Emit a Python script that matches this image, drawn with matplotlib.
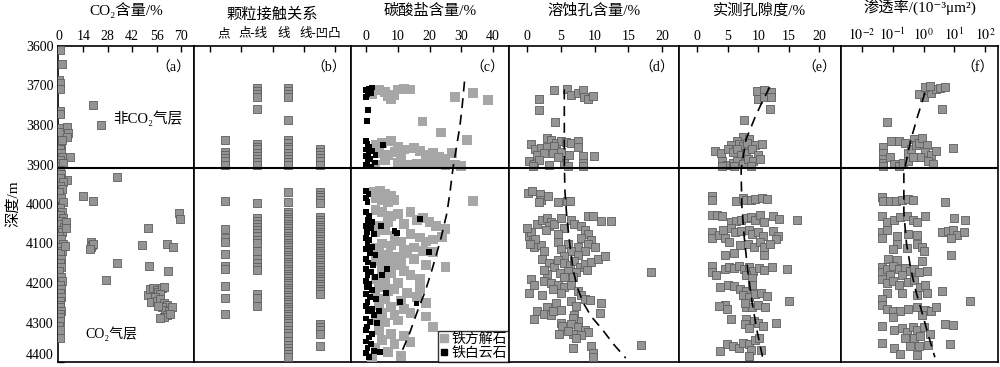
import matplotlib
matplotlib.use('Agg')
import matplotlib.pyplot as plt
from matplotlib.lines import Line2D
import numpy as np

plt.rcParams['font.family'] = ['Liberation Serif', 'Noto Sans CJK SC', 'DejaVu Sans']
plt.rcParams['mathtext.fontset'] = 'stix'
plt.rcParams['axes.unicode_minus'] = False

# ---- (a) CO2 content ----
co2_val = [0.3, 1.5, 0.2, 0.5, 0.8, 0.3, 0.5, 0.2, 0.8, 0.3, 0.6, 1.0, 0.4, 0.9, 1.5, 0.5, 1.2, 0.3,
           4.6, 5.2, 4.6, 1.7, 6.3, 2.0, 19.3, 23.9, 33.1, 4.4, 14.0, 19.7,
           0.5, 1.2, 0.3, 2.0, 0.8, 1.5, 0.2, 1.0, 2.5, 0.4, 1.8, 0.6, 2.2, 1.1, 0.3, 2.8, 0.9, 1.6,
           0.2, 1.3, 2.4, 0.7, 1.9, 0.4, 1.1, 0.5, 1.4, 0.2, 0.9, 1.7, 0.3, 1.2, 0.6, 1.0, 0.4, 0.8,
           0.3, 1.1, 0.5, 0.7, 0.4, 0.2, 0.5, 0.3,
           68.8, 69.5, 51.2, 47.4, 61.8, 65.7, 51.8, 62.4, 33.4, 27.0,
           18.3, 19.0, 18.5, 19.5, 18.0, 3.4, 4.0, 4.0,
           51, 52, 54, 56, 57, 59, 60, 58, 55, 53, 56, 58, 60, 62, 59, 61, 63, 65, 62, 60, 58, 64, 57]
co2_dep = [3610, 3645, 3686, 3693, 3709, 3764, 3772, 3807, 3817, 3837, 3845, 3852, 3862, 3870, 3880, 3888, 3896, 3905,
           3804, 3820, 3830, 3838, 3880, 3897, 3750, 3801, 3932, 3938, 3980, 3993,
           3915, 3925, 3935, 3945, 3955, 3962, 3970, 3985, 3995, 4010, 4020, 4028, 4035, 4042, 4050, 4058, 4065, 4072,
           4080, 4088, 4100, 4110, 4118, 4125, 4140, 4150, 4160, 4170, 4185, 4195, 4205, 4215, 4225, 4235, 4245, 4255,
           4262, 4270, 4278, 4285, 4295, 4310, 4320, 4340,
           4022, 4039, 4060, 4105, 4100, 4110, 4157, 4170, 4150, 4193,
           4097, 4103, 4110, 4100, 4113, 4107, 4045, 4062,
           4230, 4215, 4212, 4218, 4222, 4212, 4210, 4228, 4235, 4248, 4245, 4240, 4250, 4255, 4262, 4268, 4270, 4262,
           4280, 4285, 4288, 4278, 4258]

# ---- (b) grain contact ----
contact_labels = ['点', '点-线', '线', '线-凹凸']
dep_point = [3837, 3868, 3876, 3884, 3892, 3900, 3993, 4064, 4085, 4097, 4127, 4158, 4165, 4208, 4237, 4279]
dep_point_line = [3707, 3715, 3722, 3730, 3759, 3847, 3855, 3862, 3870, 3878, 3886, 3893, 3901, 3997,
                  4035, 4043, 4050, 4058, 4066, 4074, 4082, 4090, 4098, 4120, 4140, 4150, 4160, 4168,
                  4229, 4237, 4259]
dep_line = [3707, 3715, 3722, 3730, 3787, 3838, 3846, 3855, 3862, 3870, 3878, 3886, 3893, 3901, 3970, 3996,
            4020, 4026, 4032, 4038, 4044, 4050, 4056, 4062, 4068, 4074, 4080, 4086, 4092, 4098, 4104, 4110,
            4116, 4122, 4128, 4134, 4140, 4146, 4152, 4158, 4164, 4170, 4176, 4182, 4188, 4194, 4200, 4206,
            4212, 4218, 4224, 4230, 4236, 4242, 4248, 4254, 4260, 4266, 4272, 4278, 4284, 4290, 4296, 4302,
            4310, 4318, 4326, 4334, 4348, 4356, 4364, 4372, 4380, 4388]
dep_line_concave = [3860, 3868, 3876, 3884, 3892, 3900, 3970, 3976, 3982, 3990, 3998,
                    4034, 4040, 4046, 4052, 4058, 4064, 4070, 4076, 4082, 4088, 4094, 4100, 4106, 4112,
                    4118, 4124, 4130, 4136, 4142, 4148, 4154, 4160, 4166, 4172, 4178, 4184, 4190, 4196,
                    4202, 4208, 4214, 4220, 4228, 4305, 4312, 4320, 4330, 4360]

# ---- (c) carbonate content ----
calcite_val = [2, 4, 6, 7, 9, 10, 12, 14, 8, 28, 33.7, 38.4, 17.8, 23.6, 31.8,
               3, 5, 8, 10, 12, 4, 7, 9, 15, 17, 19, 21, 23, 25, 27, 6, 10, 13, 16, 19, 22, 25, 28, 30, 3, 11,
               2.5, 4.5, 6, 8, 9, 5, 3, 7, 33.7,
               3, 5, 8, 10, 14, 16, 18, 20, 22, 12, 7, 4, 3, 6, 9, 14, 17, 19, 21, 25, 24, 11, 5, 3, 8, 12,
               15, 4, 7, 10, 13, 18, 21, 3, 6, 9, 11, 15, 19, 25, 5, 8, 12, 14, 17, 3, 6, 10, 4, 7, 9, 13,
               17, 3, 6, 11, 16, 19, 4, 8, 12, 5, 9, 14, 19, 3, 6, 10, 21, 4, 8, 12, 5, 9, 14, 3, 7, 11, 2]
calcite_dep = [3722, 3712, 3716, 3728, 3725, 3710, 3708, 3710, 3735, 3729, 3718, 3736, 3791, 3819, 3837,
               3850, 3845, 3840, 3855, 3862, 3870, 3875, 3868, 3858, 3865, 3875, 3870, 3880, 3885, 3870,
               3890, 3895, 3900, 3898, 3900, 3895, 3902, 3900, 3903, 3900, 3880,
               3970, 3968, 3975, 3980, 3990, 3990, 3985, 3995, 3993,
               4015, 4020, 4030, 4025, 4020, 4040, 4035, 4045, 4055, 4050, 4045, 4055, 4070, 4065, 4080,
               4075, 4085, 4095, 4090, 4064, 4083, 4095, 4100, 4110, 4105, 4115, 4110, 4125, 4130, 4135,
               4125, 4120, 4122, 4145, 4150, 4155, 4145, 4140, 4155, 4160, 4170, 4175, 4170, 4180, 4190,
               4190, 4195, 4200, 4210, 4220, 4215, 4225, 4215, 4230, 4240, 4245, 4235, 4250, 4255, 4260,
               4265, 4275, 4280, 4275, 4285, 4295, 4300, 4295, 4312, 4320, 4330, 4335, 4345, 4355, 4350,
               4365, 4375, 4385, 4390]
dolomite_val = [0, 1, 2, 0.5, 1.5, 0, 0.7, 0.3,
                0, 0.5, 1, 0, 0.8, 0, 1.2, 0.5, 0, 1.5, 2.8, 5.4, 3, 2,
                0, 0.8, 0, 0.5, 0, 1, 0.5, 2, 0, 1.5, 0.3, 2.5, 0, 1, 0.5, 2, 0, 1.2, 3, 0, 0.7, 2.2, 0,
                1.5, 0.5, 2.8, 0, 1, 0.3, 2, 0, 1.3, 3.2, 0.5, 0, 1.8, 0.6, 2.5, 0, 1.2, 3.5, 0.4, 0, 2,
                1, 0, 1.5, 0.5, 0, 1, 2.5,
                4.6, 9, 9.8, 17, 19.8, 6.5, 5, 6.2, 10.8, 15.9, 4, 4.4]
dolomite_dep = [3712, 3708, 3705, 3722, 3718, 3730, 3761, 3790,
                3840, 3848, 3855, 3862, 3870, 3878, 3885, 3892, 3900, 3905, 3895, 3850, 3875, 3865,
                3968, 3975, 3985, 3995, 4020, 4030, 4040, 4045, 4055, 4060, 4070, 4075, 4085, 4092, 4100,
                4108, 4115, 4125, 4130, 4140, 4148, 4155, 4165, 4172, 4180, 4185, 4195, 4202, 4210, 4218,
                4228, 4235, 4240, 4248, 4258, 4265, 4272, 4280, 4290, 4298, 4302, 4310, 4320, 4328, 4338,
                4348, 4355, 4365, 4378, 4388, 4372,
                4056, 4069, 4073, 4039, 4122, 4164, 4180, 4225, 4249, 4252, 4270, 4374]
carb_curve_dep = [3690, 3750, 3800, 3850, 3908, 3960, 4022, 4090, 4166, 4220, 4267, 4330, 4385]
carb_curve_val = [31, 30.3, 29.6, 28.6, 27.4, 26.6, 25.5, 23.5, 20.8, 18.7, 16.4, 13.6, 10.7]

# ---- (d) dissolution pores ----
pore_val = [4.0, 5.9, 6.5, 7.5, 8.3, 8.4, 9.0, 9.8, 1.8, 1.8, 4.1,
            2.9, 3.5, 4.2, 5.0, 5.8, 6.5, 0.5, 1.2, 2.0, 3.0, 4.0, 7.6, 7.6, 1.5, 2.5, 3.8, 5.0, 6.2,
            8.3, 9.9, 0.3, 1.0, 1.8, 3.2, 5.5, 6.0, 8.3, 8.3, 0.8, 4.5,
            0.1, 0.7, 1.9, 2.1, 3.1, 4.5, 5.9, 6.4, 1.8, 9.0, 9.8, 11.0, 12.4,
            0.2, 0.5, 0.0, 0.8, 1.5, 2.2, 3.0, 3.5, 1.0, 2.0, 2.5, 3.2, 4.0, 1.2, 0.4, 2.8,
            5.0, 6.5, 7.0, 8.0, 5.5, 8.5, 9.0, 8.0, 9.5, 9.0, 4.5, 6.0, 7.5, 10.0, 5.0, 4.5, 8.5, 6.5, 7.5, 5.5,
            2.2, 3.2, 4.0, 4.5, 5.5, 6.3, 7.0, 7.8, 8.5, 9.5, 10.5, 11.5, 6.0, 7.2, 8.8, 4.8, 3.0, 2.5,
            5.5, 6.8, 18.3,
            0.5, 1.0, 0.3, 2.5, 3.5, 4.5, 5.5, 6.5, 3.8, 7.5, 8.0, 5.0, 2.2, 8.5, 6.5, 7.2, 9.3, 11.0, 4.3, 3.0,
            1.5, 2.5, 3.5, 1.0, 3.8, 5.0, 7.0, 10.8, 7.5, 6.8,
            5.0, 5.2, 6.5, 7.5, 8.5, 9.0, 6.8, 8.0, 4.7, 6.0, 7.2,
            6.8, 9.5, 9.8, 9.8, 16.9]
pore_dep = [3711, 3708, 3725, 3720, 3711, 3730, 3733, 3726, 3733, 3763, 3792,
            3832, 3838, 3845, 3840, 3842, 3845, 3848, 3862, 3858, 3855, 3852, 3840, 3855, 3875, 3870, 3872,
            3868, 3875, 3878, 3878, 3892, 3898, 3888, 3900, 3895, 3905, 3895, 3905, 3905, 3880,
            3972, 3968, 3975, 3990, 3980, 3995, 3993, 3992, 3995, 4030, 4030, 4043, 4043,
            4080, 4070, 4060, 4095, 4050, 4040, 4035, 4045, 4110, 4105, 4120, 4055, 4050, 4088, 4100, 4065,
            4035, 4040, 4050, 4055, 4062, 4065, 4075, 4085, 4092, 4100, 4095, 4100, 4108, 4110, 4115, 4075,
            4120, 4120, 4130, 4132,
            4140, 4150, 4160, 4142, 4150, 4155, 4145, 4160, 4152, 4148, 4140, 4132, 4170, 4172, 4168, 4175,
            4178, 4168, 4185, 4185, 4173,
            4190, 4205, 4225, 4195, 4200, 4205, 4210, 4205, 4215, 4220, 4230, 4225, 4230, 4240, 4245, 4258,
            4242, 4250, 4250, 4262,
            4270, 4278, 4280, 4290, 4272, 4268, 4280, 4275, 4295, 4288,
            4300, 4310, 4305, 4312, 4318, 4325, 4330, 4332, 4328, 4322, 4340,
            4365, 4360, 4378, 4388, 4356]
pore_curve_dep = [3710, 3800, 3900, 3970, 4040, 4100, 4166, 4210, 4250, 4285, 4317, 4355, 4390]
pore_curve_val = [5.5, 5.5, 5.5, 5.6, 5.9, 6.3, 6.8, 7.4, 8.3, 9.5, 11.1, 12.8, 14.6]

# ---- (e) measured porosity ----
phi_val = [9.8, 11.0, 12.1, 9.9, 11.0, 12.1, 11.9, 7.7,
           7.5, 8.5, 6.5, 5.5, 6.8, 7.5, 8.2, 9.5, 10.6, 2.9, 3.9, 5.0, 5.8, 6.5, 7.2, 8.0, 9.0, 10.0,
           4.0, 4.8, 5.8, 6.6, 7.5, 8.3, 9.2, 10.3, 4.0, 6.0, 8.8,
           2.4, 2.4, 6.3, 7.5, 8.0, 8.8, 9.5, 10.6, 11.5,
           2.4, 3.2, 4.0, 5.5, 6.3, 7.2, 8.0, 8.8, 9.5, 10.3, 12.5, 13.5, 16.3, 11.0,
           2.4, 2.4, 3.5, 4.2, 4.5, 5.5, 6.2, 7.2, 8.5, 9.0, 10.0, 10.8, 12.5, 13.3, 13.0,
           5.2, 7.0, 8.3, 9.3, 10.3, 11.0, 12.0, 6.0, 4.5, 11.0,
           2.4, 2.4, 3.0, 4.5, 5.2, 6.0, 6.8, 7.6, 8.5, 9.2, 10.2, 11.0, 12.2, 14.7, 8.0, 9.0,
           3.8, 5.0, 6.0, 7.0, 8.0, 9.0, 7.5, 8.5, 9.5, 10.5, 11.5, 15.0, 4.5, 4.8, 3.5, 8.0, 9.0, 10.0,
           11.2, 7.8,
           5.5, 8.0, 9.3, 13.0, 7.8, 8.5, 10.0, 10.8,
           4.8, 5.8, 6.8, 7.5, 8.5, 9.5, 10.2, 10.5, 8.8, 3.8, 8.5]
phi_dep = [3714, 3712, 3716, 3735, 3730, 3730, 3760, 3787,
           3830, 3835, 3840, 3850, 3848, 3852, 3845, 3850, 3848, 3865, 3870, 3860, 3868, 3862, 3875, 3870,
           3860, 3875, 3890, 3900, 3895, 3890, 3898, 3885, 3892, 3885, 3905, 3905, 3905,
           3980, 3990, 3992, 3985, 3990, 3990, 3988, 3985, 3988,
           4028, 4028, 4030, 4045, 4042, 4040, 4035, 4032, 4040, 4028, 4030, 4038, 4040, 4045,
           4070, 4085, 4078, 4065, 4085, 4060, 4070, 4068, 4065, 4075, 4070, 4080, 4068, 4080, 4088,
           4095, 4105, 4100, 4110, 4095, 4110, 4100, 4125, 4130, 4130,
           4158, 4172, 4180, 4165, 4160, 4162, 4158, 4165, 4160, 4170, 4162, 4168, 4160, 4165, 4180, 4188,
           4210, 4205, 4208, 4215, 4220, 4205, 4230, 4235, 4228, 4225, 4232, 4245, 4255, 4265, 4258, 4260,
           4262, 4255, 4262, 4250,
           4290, 4290, 4295, 4300, 4305, 4315, 4302, 4310,
           4355, 4360, 4365, 4352, 4355, 4345, 4340, 4370, 4370, 4372, 4385]
phi_curve_dep = [3704, 3740, 3780, 3837, 3913, 4000, 4082, 4170, 4249, 4320, 4393]
phi_curve_val = [11.9, 10.7, 9.5, 8.0, 7.2, 7.3, 7.7, 8.3, 9.0, 9.8, 10.8]

# ---- (f) permeability (10^-3 um^2) ----
perm_val = [1.0, 0.71, 1.26, 1.78, 2.51, 3.55, 5.0, 1.12, 1.58, 3.9, 0.065,
            0.05, 0.05, 0.05, 0.05, 0.05, 0.089, 0.079, 0.112, 0.158, 0.224, 0.166, 0.251, 0.316, 0.398,
            0.5, 0.562, 0.708, 0.891, 1.26, 1.12, 0.794, 1.78, 2.51, 1.41, 2.0, 9.3, 0.316, 0.447,
            0.044, 0.05, 0.079, 0.126, 0.2, 0.316, 0.447, 5.0,
            0.044, 0.063, 0.112, 0.178, 0.282, 0.447, 0.631, 1.12, 10.0, 22.4,
            0.044, 0.044, 0.063, 0.141, 0.316, 0.631, 3.98, 6.3, 8.9, 12.6, 20.0, 7.9,
            0.141, 0.1, 0.282, 0.631, 0.891, 1.0, 7.9,
            0.071, 0.141, 0.891,
            0.044, 0.044, 0.063, 0.1, 0.158, 0.251, 0.355, 0.5, 0.708, 1.26, 0.079, 0.2,
            0.044, 0.063, 0.1, 0.158, 0.316, 0.5, 0.794, 1.12, 0.063, 0.2, 0.631, 1.26, 3.98, 0.044, 31.6,
            0.044, 0.063, 0.1, 0.178, 0.316, 0.631, 1.12, 1.78, 2.51, 0.891, 0.1,
            0.044, 0.112, 0.2, 0.282, 0.447, 0.631, 1.0, 5.0, 8.9, 0.251, 0.5, 0.794, 1.58,
            0.044, 0.112, 0.355, 0.708, 1.41, 7.1, 0.178, 0.631]
perm_dep = [3728, 3722, 3712, 3718, 3708, 3706, 3705, 3705, 3700, 3760, 3793,
            3855, 3870, 3885, 3895, 3905, 3840, 3880, 3898, 3905, 3895, 3840, 3845, 3872, 3860,
            3835, 3850, 3845, 3832, 3850, 3868, 3880, 3875, 3865, 3890, 3898, 3858, 3890, 3880,
            3982, 3992, 3992, 3992, 3990, 3988, 3990, 3995,
            4030, 4045, 4040, 4032, 4030, 4040, 4045, 4030, 4035, 4040,
            4070, 4085, 4065, 4080, 4075, 4078, 4072, 4068, 4065, 4078, 4072, 4085,
            4100, 4115, 4112, 4100, 4110, 4118, 4128,
            4140, 4142, 4145,
            4160, 4172, 4165, 4158, 4165, 4162, 4170, 4165, 4172, 4170, 4180, 4180,
            4190, 4200, 4195, 4205, 4198, 4192, 4210, 4205, 4225, 4225, 4230, 4225, 4220, 4240, 4245,
            4255, 4265, 4270, 4270, 4265, 4262, 4268, 4270, 4260, 4282, 4285,
            4310, 4320, 4315, 4325, 4312, 4318, 4312, 4305, 4306, 4340, 4338, 4335, 4330,
            4352, 4365, 4360, 4360, 4358, 4355, 4380, 4382]
perm_curve_dep = [3718, 3780, 3837, 3921, 4022, 4100, 4166, 4220, 4274, 4330, 4388]
perm_curve_val = [1.12, 0.63, 0.39, 0.23, 0.23, 0.28, 0.39, 0.56, 0.89, 1.41, 2.34]

BOUNDARY = 3908
GRAY = '#949494'
EDGE = '#5e5e5e'

fig = plt.figure(figsize=(10, 3.67), dpi=100)
W, H = 1000.0, 367.0
top_px, bot_px = 46, 362
edges = [58, 194, 351, 509, 679, 841, 998]
axes = []
for i in range(6):
    l, r = edges[i], edges[i + 1]
    ax = fig.add_axes([l / W, 1 - bot_px / H, (r - l) / W, (bot_px - top_px) / H])
    axes.append(ax)

for ax in axes:
    ax.set_ylim(4400, 3600)
    ax.xaxis.tick_top()
    ax.xaxis.set_label_position('top')
    ax.tick_params(axis='x', direction='in', length=4, width=1, labelsize=10, pad=2)
    ax.tick_params(axis='y', left=False, labelleft=False)
    for s in ax.spines.values():
        s.set_linewidth(1.2)
    ax.axhline(BOUNDARY, color='black', lw=1.5, zorder=5)

def gray_sq(ax, x, y):
    ax.scatter(x, y, marker='s', s=34, c=GRAY, edgecolors=EDGE, linewidths=0.6, zorder=3)

def dashed(ax, x, y):
    ax.plot(x, y, color='black', lw=1.2, ls=(0, (6, 4)), zorder=4)

def title(ax, s, pad=11):
    ax.set_xlabel(s, fontsize=11, labelpad=pad)

# (a)
ax = axes[0]
gray_sq(ax, co2_val, co2_dep)
ax.set_xlim(-0.6, 77.5)
ax.set_xticks([0, 14, 28, 42, 56, 70])
title(ax, 'CO₂含量/%')
ax.set_yticks(np.arange(3600, 4401, 100))
ax.tick_params(axis='y', left=True, labelleft=True, direction='in', length=4, width=1, labelsize=10, pad=3)
ax.get_yticklabels()[-1].set_va('bottom')
ax.set_ylabel('深度/m', fontsize=11, labelpad=4)
ax.text(0.66, 0.77, '非CO₂气层', transform=ax.transAxes, ha='center', va='center', fontsize=10.5)
ax.text(0.39, 0.09, 'CO₂气层', transform=ax.transAxes, ha='center', va='center', fontsize=10)
ax.text(0.97, 0.93, '（a）', transform=ax.transAxes, ha='right', va='center', fontsize=10)

# (b)
ax = axes[1]
for k, deps in enumerate([dep_point, dep_point_line, dep_line, dep_line_concave]):
    gray_sq(ax, [k + 0.5] * len(deps), deps)
ax.set_xlim(-0.5, 4.5)
ax.set_xticks([0, 1, 2, 3, 4])
ax.set_xticklabels([])
ax.set_xticks([0.46, 1.38, 2.36, 3.52], minor=True)
ax.set_xticklabels(contact_labels, minor=True)
ax.tick_params(axis='x', which='minor', length=0, labelsize=9, pad=4)
title(ax, '颗粒接触关系', pad=7)
ax.text(0.97, 0.93, '（b）', transform=ax.transAxes, ha='right', va='center', fontsize=10)

# (c)
ax = axes[2]
ax.scatter(calcite_val, calcite_dep, marker='s', s=50, c='#a6a6a6', edgecolors='none', zorder=3)
ax.scatter(dolomite_val, dolomite_dep, marker='s', s=18, c='black', edgecolors='none', zorder=3.5)
dashed(ax, carb_curve_val, carb_curve_dep)
ax.set_xlim(-4.7, 45)
ax.set_xticks([0, 10, 20, 30, 40])
title(ax, '碳酸盐含量/%')
ax.text(0.97, 0.93, '（c）', transform=ax.transAxes, ha='right', va='center', fontsize=10)
handles = [Line2D([], [], marker='s', ls='none', color='#a6a6a6', markersize=6),
           Line2D([], [], marker='s', ls='none', color='black', markersize=4)]
leg = ax.legend(handles, ['铁方解石', '铁白云石'], loc='lower right', fontsize=10, frameon=True,
                fancybox=False, edgecolor='black', borderaxespad=0, handlelength=0.6,
                handletextpad=0.2, borderpad=0.15, labelspacing=0.05)
leg.get_frame().set_linewidth(1.0)
leg.set_zorder(6)

# (d)
ax = axes[3]
gray_sq(ax, pore_val, pore_dep)
dashed(ax, pore_curve_val, pore_curve_dep)
ax.set_xlim(-2.7, 22.5)
ax.set_xticks([0, 5, 10, 15, 20])
title(ax, '溶蚀孔含量/%')
ax.text(0.97, 0.93, '（d）', transform=ax.transAxes, ha='right', va='center', fontsize=10)

# (e)
ax = axes[4]
gray_sq(ax, phi_val, phi_dep)
dashed(ax, phi_curve_val, phi_curve_dep)
ax.set_xlim(-3.0, 23.6)
ax.set_xticks([0, 5, 10, 15, 20])
title(ax, '实测孔隙度/%')
ax.text(0.97, 0.93, '（e）', transform=ax.transAxes, ha='right', va='center', fontsize=10)

# (f)
ax = axes[5]
gray_sq(ax, perm_val, perm_dep)
dashed(ax, perm_curve_val, perm_curve_dep)
ax.set_xscale('log')
ax.set_xlim(10 ** -2.68, 10 ** 2.42)
ax.set_xticks([1e-2, 1e-1, 1e0, 1e1, 1e2])
ax.set_xticklabels(['$10^{-2}$', '$10^{-1}$', '$10^{0}$', '$10^{1}$', '$10^{2}$'])
ax.minorticks_off()
title(ax, '渗透率/(10⁻³μm²)')
ax.text(0.97, 0.93, '（f）', transform=ax.transAxes, ha='right', va='center', fontsize=10)

fig.savefig('out.png', dpi=100)
